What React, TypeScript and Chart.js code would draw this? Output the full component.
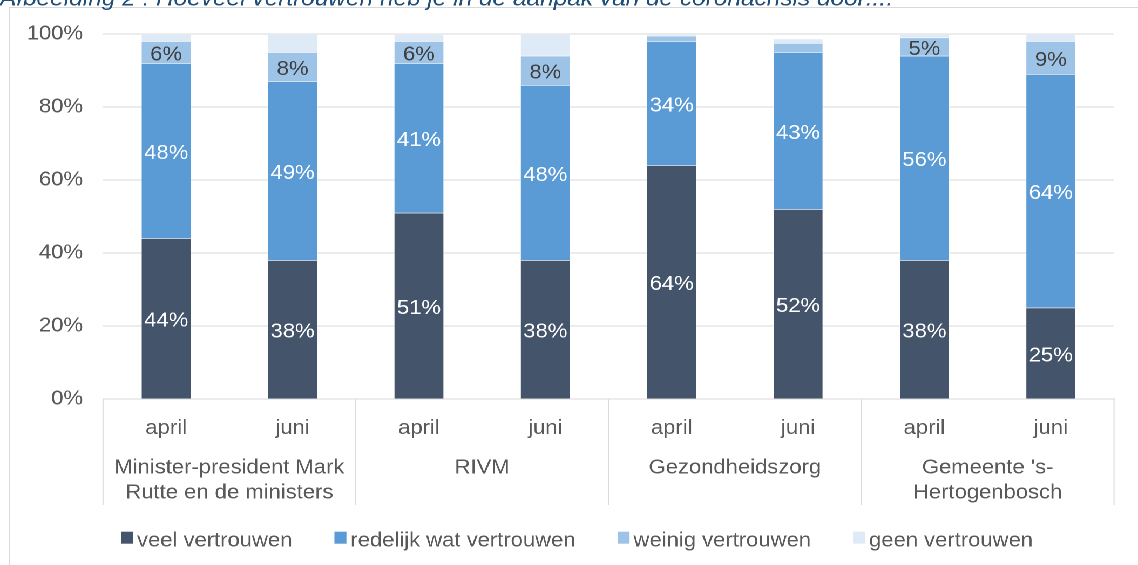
import React, { useEffect, useRef } from "react";
import { Chart, registerables } from "chart.js";

Chart.register(...registerables);

// ---------- data ----------
const months = ["april", "juni", "april", "juni", "april", "juni", "april", "juni"];
const groups = [
  ["Minister-president Mark", "Rutte en de ministers"],
  ["RIVM"],
  ["Gezondheidszorg"],
  ["Gemeente 's-", "Hertogenbosch"],
];
const seriesNames = ["veel vertrouwen", "redelijk wat vertrouwen", "weinig vertrouwen", "geen vertrouwen"];
const veel = [44, 38, 51, 38, 64, 52, 38, 25];
const redelijk = [48, 49, 41, 48, 34, 43, 56, 64];
const weinig = [6, 8, 6, 8, 1.5, 2.5, 5, 9];
const geen = [2, 5, 2, 6, 0.5, 1.2, 1, 2];
const seriesColors = ["#44546A", "#5B9BD5", "#9DC3E6", "#DEEBF7"];
const labelColors = ["#ffffff", "#ffffff", "#404040"];
const titleText = "Afbeelding 2 : Hoeveel vertrouwen heb je in de aanpak van de coronacrisis door:...";

// ---------- geometry (reference is horizontally stretched) ----------
const W = 1054;
const H = 565;
const S = 1138 / W;
const u = (xRef: number) => xRef / S;
const FS = 20.4;
const FONT = '"Liberation Sans", Arial, sans-serif';
const TEXT = "#595959";
const GRID = "#d9d9d9";

const decor = {
  id: "decor",
  beforeDraw(chart: any) {
    const ctx = chart.ctx;
    ctx.save();
    // chart frame
    ctx.strokeStyle = GRID;
    ctx.lineWidth = 1;
    ctx.beginPath();
    ctx.moveTo(W + 5, 7.5);
    ctx.lineTo(u(9.5), 7.5);
    ctx.lineTo(u(9.5), H + 5);
    ctx.stroke();
    // caption (cut at the top)
    ctx.font = `italic ${FS}px ${FONT}`;
    const w = ctx.measureText(titleText).width;
    const size = (FS * u(893)) / w;
    ctx.font = `italic ${size}px ${FONT}`;
    ctx.fillStyle = "#1F4E79";
    ctx.textBaseline = "alphabetic";
    ctx.textAlign = "left";
    ctx.fillText(titleText, 0, 5.5);
    ctx.restore();
  },
  afterDatasetsDraw(chart: any) {
    const ctx = chart.ctx;
    ctx.save();
    ctx.font = `${FS}px ${FONT}`;
    ctx.textAlign = "center";
    ctx.textBaseline = "middle";
    chart.data.datasets.forEach((ds: any, di: number) => {
      if (di > 2) return;
      const meta = chart.getDatasetMeta(di);
      meta.data.forEach((el: any, i: number) => {
        const v = ds.data[i];
        if (v < 5) return;
        ctx.fillStyle = labelColors[di];
        ctx.fillText(`${Math.round(v)}%`, el.x, (el.y + el.base) / 2 + 2.5);
      });
    });
    ctx.restore();
  },
  afterDraw(chart: any) {
    const ctx = chart.ctx;
    const xs = chart.scales.x;
    const x2 = chart.scales.x2;
    ctx.save();
    // group separators
    ctx.strokeStyle = GRID;
    ctx.lineWidth = 1;
    for (let g = 0; g <= groups.length; g++) {
      const px = xs.getPixelForValue(g * 2 - 0.5);
      ctx.beginPath();
      ctx.moveTo(px, chart.chartArea.bottom);
      ctx.lineTo(px, x2.bottom);
      ctx.stroke();
    }
    // legend
    ctx.font = `${FS}px ${FONT}`;
    ctx.textBaseline = "alphabetic";
    ctx.textAlign = "left";
    const boxW = u(12);
    const boxH = 12;
    const gap = u(4);
    const spacing = u(42);
    const items = chart.data.datasets.map((ds: any) => ({
      text: ds.label,
      color: ds.backgroundColor,
      w: ctx.measureText(ds.label).width,
    }));
    let total = 0;
    items.forEach((it: any, i: number) => {
      total += boxW + gap + it.w + (i > 0 ? spacing : 0);
    });
    let x = u(577) - total / 2;
    items.forEach((it: any) => {
      ctx.fillStyle = it.color;
      ctx.fillRect(x, 531.7, boxW, boxH);
      ctx.fillStyle = TEXT;
      ctx.fillText(it.text, x + boxW + gap, 546.5);
      x += boxW + gap + it.w + spacing;
    });
    ctx.restore();
  },
};

export default function App() {
  const ref = useRef<HTMLCanvasElement | null>(null);

  useEffect(() => {
    if (!ref.current) return;
    const values = [veel, redelijk, weinig, geen];
    const chart = new Chart(ref.current, {
      type: "bar",
      data: {
        labels: months,
        datasets: seriesNames.map((name, i) => ({
          label: name,
          data: values[i],
          backgroundColor: seriesColors[i],
          borderColor: "rgba(255,255,255,0.5)",
          borderWidth: 0.5,
          barPercentage: 0.3957,
          categoryPercentage: 1,
        })),
      },
      options: {
        responsive: false,
        devicePixelRatio: 2,
        animation: false,
        events: [],
        layout: {
          padding: { left: 0, right: W - u(1114), top: 34, bottom: 60 },
        },
        plugins: {
          legend: { display: false },
          tooltip: { enabled: false },
          title: { display: false },
        },
        scales: {
          x: {
            stacked: true,
            offset: true,
            grid: { display: false, drawTicks: false },
            border: { display: true, color: GRID, width: 1 },
            ticks: {
              color: TEXT,
              font: { family: FONT, size: FS, lineHeight: 1.235 },
              padding: 17,
              maxRotation: 0,
              autoSkip: false,
            },
            afterFit: (s: any) => {
              s.height = 50;
            },
          },
          x2: {
            type: "category",
            axis: "x",
            position: "bottom",
            labels: groups as any,
            offset: true,
            grid: { display: false, drawTicks: false },
            border: { display: false },
            ticks: {
              color: TEXT,
              font: { family: FONT, size: FS, lineHeight: 1.235 },
              padding: 6.1,
              maxRotation: 0,
              autoSkip: false,
            },
            afterFit: (s: any) => {
              s.height = 56;
            },
          },
          y: {
            stacked: true,
            min: 0,
            max: 100,
            grid: { color: GRID, lineWidth: 1, drawTicks: false },
            border: { display: false },
            ticks: {
              stepSize: 20,
              color: TEXT,
              font: { family: FONT, size: FS },
              padding: 18.5,
              callback: (v: any) => `${v}%`,
            },
            afterFit: (s: any) => {
              s.width = u(103);
            },
          },
        },
      } as any,
      plugins: [decor],
    });
    return () => chart.destroy();
  }, []);

  return (
    <div
      style={{
        position: "absolute",
        left: 0,
        top: 0,
        width: W,
        height: H,
        transform: `scaleX(${S})`,
        transformOrigin: "left top",
        background: "#ffffff",
      }}
    >
      <canvas ref={ref} width={W} height={H} style={{ display: "block" }} />
    </div>
  );
}
